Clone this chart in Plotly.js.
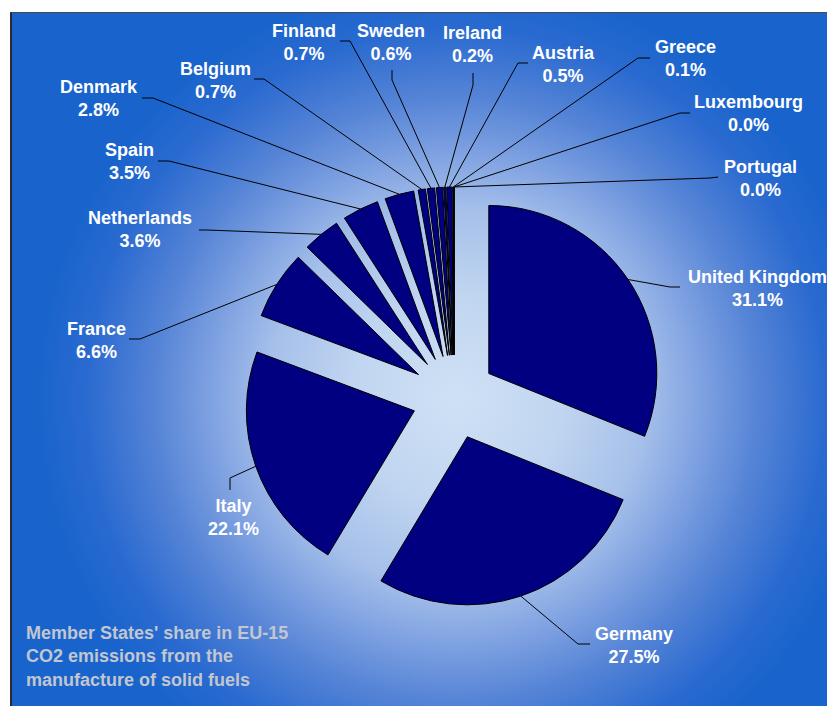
<!DOCTYPE html>
<html>
<head>
<meta charset="utf-8">
<script src="https://cdn.plot.ly/plotly-3.0.1.min.js"></script>
<style>
  html, body { margin: 0; padding: 0; background: #ffffff; }
  #panel {
    position: absolute; left: 10px; top: 12px; width: 817px; height: 694px;
    border-left: 2px solid #2a2a2a; border-top: 1px solid #4a4a4a;
    background: radial-gradient(circle 420px at 444px 386px,
      #cfe1f5 0%, #c0d5f0 25%, #a6c0ea 45%, #7a9ee0 60%, #5584d6 72%, #2a6ad0 88%, #1864cc 100%);
  }
  #chart { position: absolute; left: 0; top: 0; width: 827px; height: 706px; }
</style>
</head>
<body>
<div id="panel"></div>
<div id="chart"></div>
<script>
// ---- data ----
const countries = ['United Kingdom', 'Germany', 'Italy', 'France', 'Netherlands', 'Spain', 'Denmark',
                   'Belgium', 'Finland', 'Sweden', 'Ireland', 'Austria', 'Greece', 'Luxembourg', 'Portugal'];
const shares = [31.1, 27.5, 22.1, 6.6, 3.6, 3.5, 2.8, 0.7, 0.7, 0.6, 0.2, 0.5, 0.1, 0.0, 0.0];
const noteText = "Member States' share in EU-15<br>CO2 emissions from the<br>manufacture of solid fuels";

// ---- layout (pixel positions of label blocks and leader-line elbows) ----
const W = 827, H = 706;
const labelPos = [
  [757, 288], [634, 645], [233, 517], [96, 340], [140, 229], [129, 162], [99, 99],
  [215, 80], [304, 42], [391, 42], [473, 45], [563, 64], [685, 58], [748, 113], [760, 178]
];
const leaderElbow = [
  [[670, 287], [680, 287]],
  [[578, 644], [590, 644]],
  [[230, 478], [230, 490]],
  [[140, 339], [129, 339]],
  [[207, 230], [199, 230]],
  [[169, 161], [158, 161]],
  [[153, 98], [142, 98]],
  [[264, 79], [254, 79]],
  [[350, 41], [340, 41]],
  [[392, 80], [392, 70]],
  [[473, 85], [473, 73]],
  [[518, 63], [528, 63]],
  [[638, 58], [650, 58]],
  [[680, 113], [690, 113]],
  [[710, 178], [718, 177]]
];
const pullFrac = 0.25;
const domX = [244 / W, 664 / W];
const domY = [1 - 607 / H, 1 - 187 / H];

// geometry derived from the pie domain (same as Plotly's pie scaling)
const boxW = (domX[1] - domX[0]) * W, boxH = (domY[1] - domY[0]) * H;
const rPx = Math.min(boxW, boxH) / 2 / (1 + pullFrac);
const cxPx = (domX[0] + domX[1]) / 2 * W;
const cyPx = H - (domY[0] + domY[1]) / 2 * H;
const total = shares.reduce((a, b) => a + b, 0);

const px = x => x / W;
const py = y => 1 - y / H;

const shapes = [];
const annotations = [];
let cum = 0;
shares.forEach((v, i) => {
  const mid = (cum + v / 2) / total * 2 * Math.PI;
  cum += v;
  const R = rPx * (1 + pullFrac);
  const ax = cxPx + R * Math.sin(mid);
  const ay = cyPx - R * Math.cos(mid);
  const e = leaderElbow[i];
  shapes.push({
    type: 'path', xref: 'paper', yref: 'paper',
    path: `M ${px(ax)} ${py(ay)} L ${px(e[0][0])} ${py(e[0][1])} L ${px(e[1][0])} ${py(e[1][1])}`,
    line: { color: '#000000', width: 1 }
  });
  annotations.push({
    xref: 'paper', yref: 'paper', x: px(labelPos[i][0]), y: py(labelPos[i][1]),
    xanchor: 'center', yanchor: 'middle', showarrow: false, align: 'center',
    text: countries[i] + '<br>' + v.toFixed(1) + '%',
    font: { family: 'Liberation Sans, Arial, sans-serif', size: 18, color: '#ffffff', weight: 'bold' }
  });
});

annotations.push({
  xref: 'paper', yref: 'paper', x: px(24), y: py(656),
  xanchor: 'left', yanchor: 'middle', showarrow: false, align: 'left',
  text: noteText,
  font: { family: 'Liberation Sans, Arial, sans-serif', size: 18, color: '#c2c6cf', weight: 'bold' }
});

const trace = {
  type: 'pie',
  labels: countries,
  values: shares,
  sort: false,
  direction: 'clockwise',
  rotation: 0,
  pull: shares.map(() => pullFrac),
  textinfo: 'none',
  hoverinfo: 'label+percent',
  marker: { colors: shares.map(() => '#000080'), line: { color: '#000000', width: 1 } },
  domain: { x: domX, y: domY },
  showlegend: false
};

const layout = {
  width: W, height: H,
  margin: { l: 0, r: 0, t: 0, b: 0, pad: 0 },
  paper_bgcolor: 'rgba(0,0,0,0)',
  plot_bgcolor: 'rgba(0,0,0,0)',
  showlegend: false,
  font: { family: 'Liberation Sans, Arial, sans-serif' },
  shapes: shapes,
  annotations: annotations
};

Plotly.newPlot('chart', [trace], layout, { displayModeBar: false, staticPlot: true });
</script>
</body>
</html>
